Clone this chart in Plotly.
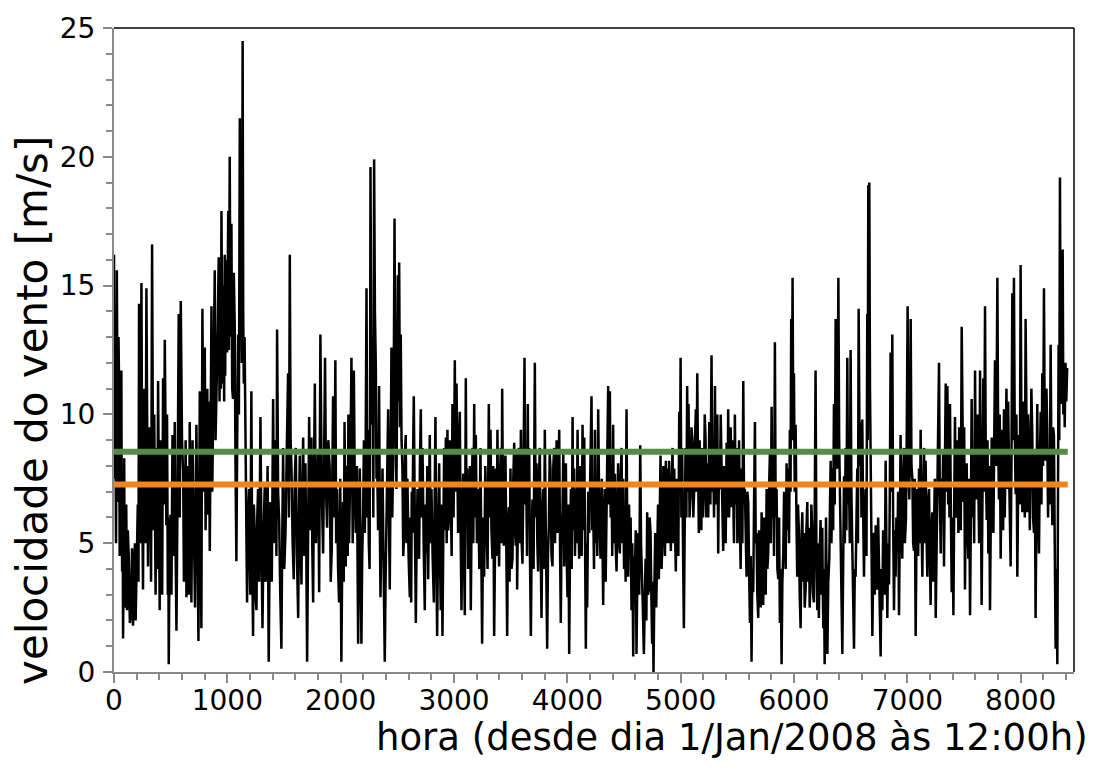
import plotly.graph_objects as go

# Hourly wind speed (peaks and troughs, ~7 h resolution)
hora = [
    0, 6, 12, 18, 25, 30, 35, 40, 45, 50, 55, 60, 65, 68, 72, 76, 80, 85, 90, 95,
    100, 108, 115, 122, 130, 140, 150, 159, 168, 176, 185, 191, 197, 204, 210, 216, 221, 226, 232, 237,
    242, 249, 256, 263, 270, 278, 286, 293, 300, 309, 318, 327, 336, 343, 350, 355, 360, 367, 374, 381,
    389, 396, 403, 410, 418, 425, 433, 440, 448, 455, 462, 468, 475, 479, 483, 490, 498, 507, 516, 526,
    536, 543, 551, 561, 571, 580, 589, 600, 610, 617, 625, 632, 639, 646, 654, 661, 668, 675, 683, 693,
    704, 715, 727, 736, 745, 751, 757, 764, 771, 775, 780, 790, 801, 808, 816, 823, 830, 837, 845, 852,
    860, 867, 874, 881, 889, 896, 904, 914, 924, 931, 939, 943, 948, 952, 957, 962, 967, 972, 977, 981,
    986, 992, 998, 1003, 1008, 1014, 1021, 1028, 1036, 1043, 1050, 1057, 1065, 1072, 1080, 1087, 1095, 1102, 1110, 1116,
    1122, 1128, 1135, 1140, 1145, 1152, 1160, 1167, 1174, 1183, 1192, 1202, 1212, 1219, 1227, 1234, 1242, 1249, 1257, 1264,
    1271, 1281, 1292, 1301, 1310, 1320, 1330, 1337, 1345, 1355, 1365, 1372, 1380, 1392, 1404, 1411, 1418, 1422, 1427, 1433,
    1439, 1448, 1457, 1467, 1477, 1484, 1492, 1502, 1513, 1524, 1536, 1543, 1551, 1558, 1566, 1576, 1586, 1595, 1604, 1614,
    1625, 1632, 1639, 1646, 1654, 1661, 1669, 1679, 1689, 1696, 1704, 1713, 1722, 1732, 1742, 1749, 1757, 1764, 1772, 1782,
    1792, 1801, 1810, 1815, 1821, 1833, 1845, 1853, 1862, 1871, 1880, 1891, 1903, 1912, 1921, 1927, 1933, 1943, 1953, 1960,
    1968, 1977, 1986, 1996, 2006, 2013, 2021, 2027, 2034, 2040, 2045, 2051, 2057, 2062, 2068, 2074, 2081, 2088, 2095, 2100,
    2106, 2111, 2116, 2125, 2133, 2143, 2154, 2161, 2169, 2176, 2183, 2190, 2198, 2205, 2213, 2220, 2228, 2235, 2242, 2248,
    2255, 2259, 2263, 2270, 2277, 2282, 2288, 2291, 2295, 2302, 2310, 2316, 2322, 2330, 2339, 2345, 2351, 2360, 2369, 2379,
    2389, 2396, 2404, 2411, 2419, 2426, 2433, 2440, 2448, 2455, 2463, 2469, 2475, 2483, 2492, 2498, 2504, 2510, 2516, 2523,
    2530, 2537, 2545, 2552, 2560, 2567, 2574, 2581, 2589, 2599, 2610, 2616, 2622, 2627, 2633, 2639, 2645, 2654, 2663, 2670,
    2678, 2685, 2692, 2699, 2707, 2714, 2722, 2732, 2742, 2749, 2757, 2764, 2772, 2779, 2786, 2793, 2801, 2811, 2822, 2829,
    2836, 2843, 2851, 2860, 2869, 2876, 2883, 2890, 2898, 2905, 2913, 2920, 2928, 2935, 2942, 2949, 2957, 2964, 2972, 2979,
    2986, 2996, 3007, 3014, 3022, 3029, 3036, 3043, 3051, 3058, 3066, 3073, 3081, 3088, 3095, 3099, 3104, 3110, 3116, 3124,
    3133, 3140, 3148, 3155, 3163, 3170, 3178, 3185, 3192, 3202, 3213, 3223, 3233, 3240, 3248, 3257, 3266, 3276, 3286, 3296,
    3307, 3314, 3322, 3330, 3339, 3346, 3354, 3361, 3369, 3376, 3383, 3390, 3398, 3405, 3413, 3419, 3425, 3432, 3439, 3446,
    3454, 3461, 3469, 3476, 3483, 3490, 3498, 3507, 3516, 3523, 3531, 3538, 3545, 3551, 3557, 3564, 3572, 3581, 3590, 3597,
    3604, 3613, 3622, 3629, 3637, 3644, 3651, 3657, 3663, 3670, 3678, 3685, 3692, 3702, 3713, 3720, 3728, 3735, 3742, 3749,
    3757, 3764, 3772, 3779, 3787, 3794, 3801, 3811, 3822, 3829, 3837, 3844, 3851, 3860, 3869, 3876, 3884, 3891, 3898, 3905,
    3913, 3920, 3928, 3935, 3942, 3949, 3957, 3964, 3972, 3979, 3987, 3994, 4001, 4008, 4016, 4023, 4031, 4038, 4046, 4053,
    4060, 4067, 4075, 4082, 4090, 4097, 4104, 4111, 4119, 4126, 4134, 4141, 4149, 4156, 4163, 4169, 4175, 4184, 4193, 4203,
    4213, 4220, 4228, 4235, 4243, 4250, 4257, 4264, 4272, 4282, 4293, 4304, 4316, 4323, 4331, 4338, 4345, 4352, 4360, 4367,
    4375, 4382, 4389, 4396, 4404, 4411, 4419, 4426, 4434, 4441, 4448, 4455, 4463, 4470, 4478, 4485, 4493, 4500, 4507, 4514,
    4522, 4529, 4537, 4544, 4551, 4558, 4566, 4573, 4581, 4588, 4596, 4603, 4610, 4617, 4625, 4634, 4643, 4650, 4657, 4666,
    4675, 4682, 4690, 4697, 4704, 4711, 4719, 4726, 4734, 4741, 4748, 4754, 4760, 4767, 4775, 4784, 4793, 4800, 4807, 4814,
    4822, 4831, 4840, 4847, 4854, 4861, 4869, 4876, 4884, 4891, 4898, 4905, 4913, 4920, 4928, 4935, 4943, 4950, 4957, 4964,
    4972, 4979, 4987, 4993, 4999, 5006, 5013, 5020, 5028, 5035, 5043, 5050, 5057, 5063, 5069, 5078, 5087, 5095, 5104, 5111,
    5119, 5126, 5134, 5140, 5146, 5153, 5160, 5167, 5175, 5182, 5190, 5197, 5205, 5212, 5219, 5226, 5234, 5243, 5252, 5262,
    5272, 5279, 5287, 5294, 5302, 5309, 5316, 5323, 5331, 5338, 5346, 5353, 5360, 5367, 5375, 5382, 5390, 5397, 5405, 5412,
    5419, 5426, 5434, 5441, 5449, 5456, 5463, 5470, 5478, 5485, 5493, 5500, 5508, 5515, 5522, 5529, 5537, 5544, 5552, 5559,
    5566, 5573, 5581, 5588, 5596, 5603, 5611, 5618, 5625, 5632, 5640, 5647, 5655, 5662, 5669, 5676, 5684, 5691, 5699, 5706,
    5714, 5721, 5728, 5735, 5743, 5750, 5758, 5765, 5772, 5779, 5787, 5794, 5802, 5809, 5816, 5823, 5831, 5838, 5846, 5853,
    5861, 5868, 5875, 5882, 5890, 5897, 5905, 5912, 5919, 5926, 5934, 5941, 5949, 5956, 5963, 5969, 5975, 5981, 5987, 5993,
    5999, 6006, 6014, 6021, 6028, 6035, 6043, 6050, 6058, 6065, 6073, 6080, 6087, 6094, 6102, 6109, 6117, 6124, 6131, 6138,
    6146, 6153, 6161, 6168, 6175, 6182, 6190, 6197, 6205, 6212, 6219, 6226, 6234, 6241, 6249, 6253, 6258, 6264, 6270, 6276,
    6282, 6288, 6294, 6302, 6311, 6317, 6323, 6330, 6338, 6345, 6352, 6359, 6367, 6374, 6382, 6386, 6391, 6398, 6405, 6415,
    6426, 6433, 6441, 6448, 6455, 6462, 6470, 6477, 6485, 6492, 6499, 6506, 6514, 6521, 6529, 6536, 6543, 6550, 6558, 6564,
    6570, 6579, 6588, 6595, 6602, 6609, 6617, 6624, 6632, 6639, 6646, 6650, 6655, 6659, 6664, 6670, 6676, 6683, 6691, 6698,
    6705, 6712, 6720, 6727, 6735, 6742, 6749, 6756, 6764, 6771, 6779, 6786, 6793, 6800, 6808, 6815, 6823, 6830, 6838, 6845,
    6852, 6859, 6867, 6874, 6882, 6889, 6896, 6903, 6911, 6918, 6926, 6933, 6940, 6947, 6955, 6962, 6970, 6978, 6987, 6994,
    7002, 7009, 7017, 7023, 7029, 7036, 7044, 7051, 7058, 7065, 7073, 7080, 7088, 7095, 7103, 7110, 7117, 7124, 7132, 7139,
    7147, 7154, 7161, 7168, 7176, 7183, 7191, 7198, 7205, 7212, 7220, 7227, 7235, 7242, 7250, 7257, 7264, 7271, 7279, 7286,
    7294, 7301, 7308, 7315, 7323, 7330, 7338, 7345, 7353, 7360, 7367, 7371, 7376, 7383, 7391, 7398, 7406, 7413, 7420, 7427,
    7435, 7442, 7450, 7457, 7464, 7471, 7479, 7486, 7494, 7501, 7508, 7515, 7523, 7530, 7538, 7545, 7553, 7560, 7567, 7574,
    7582, 7589, 7597, 7604, 7611, 7618, 7626, 7633, 7641, 7648, 7655, 7662, 7670, 7677, 7685, 7692, 7700, 7707, 7714, 7721,
    7729, 7736, 7744, 7751, 7759, 7766, 7773, 7783, 7794, 7801, 7808, 7815, 7823, 7830, 7838, 7845, 7852, 7859, 7867, 7874,
    7882, 7889, 7896, 7903, 7911, 7918, 7926, 7933, 7940, 7947, 7955, 7962, 7970, 7977, 7985, 7992, 7999, 8006, 8014, 8021,
    8029, 8036, 8043, 8050, 8058, 8065, 8073, 8080, 8087, 8094, 8102, 8109, 8117, 8124, 8131, 8138, 8146, 8153, 8161, 8168,
    8176, 8183, 8190, 8197, 8205, 8212, 8220, 8227, 8234, 8241, 8249, 8256, 8264, 8271, 8279, 8286, 8293, 8300, 8308, 8315,
    8323, 8328, 8334, 8340, 8346, 8352, 8358, 8364, 8370, 8376, 8382, 8388, 8395, 8402, 8410,
]

velocidade = [
    16.2, 7.5, 10.0, 5.0, 15.6, 9.0, 6.6, 13.0, 11.0, 4.5, 7.6, 10.5, 11.7, 6.0, 3.9, 7.0, 1.3, 4.5, 8.3, 2.5,
    3.0, 6.5, 2.4, 5.5, 4.5, 1.9, 2.2, 4.8, 1.8, 4.0, 5.0, 2.0, 3.1, 5.5, 6.5, 3.5, 14.3, 6.0, 5.0, 9.5,
    15.1, 7.0, 3.2, 11.0, 9.0, 5.0, 14.9, 8.0, 4.1, 9.5, 8.5, 3.5, 16.6, 9.0, 5.5, 10.0, 7.4, 3.0, 8.7, 4.0,
    11.3, 6.0, 2.4, 9.0, 6.1, 3.0, 11.4, 6.5, 12.9, 8.0, 5.7, 10.0, 3.0, 6.0, 0.3, 4.5, 6.1, 3.0, 9.2, 4.5,
    9.7, 5.0, 1.6, 7.0, 13.9, 6.0, 14.4, 9.0, 7.7, 3.5, 5.0, 9.0, 2.9, 8.0, 4.7, 3.0, 9.7, 5.5, 2.7, 9.0,
    6.1, 2.5, 9.6, 5.0, 1.2, 6.0, 10.9, 5.0, 1.7, 8.0, 14.1, 7.0, 12.6, 5.5, 8.1, 11.0, 6.1, 10.5, 4.7, 9.0,
    14.2, 7.0, 9.2, 13.0, 15.6, 9.0, 10.4, 13.0, 16.1, 10.5, 15.1, 11.0, 17.9, 12.0, 11.2, 15.0, 13.0, 10.5, 16.2, 11.5,
    16.0, 13.5, 12.4, 15.0, 17.9, 12.5, 20.0, 13.0, 17.4, 11.0, 10.6, 15.5, 13.5, 8.0, 4.3, 9.0, 13.1, 10.0, 21.5, 13.0,
    15.0, 12.0, 24.5, 14.0, 11.2, 13.0, 9.6, 5.0, 2.7, 6.0, 7.1, 3.0, 10.9, 4.5, 1.4, 6.5, 5.4, 3.0, 2.4, 6.0,
    7.1, 3.5, 9.9, 5.0, 1.7, 5.5, 7.2, 3.5, 4.2, 8.0, 0.4, 4.0, 6.6, 3.5, 10.6, 6.0, 5.0, 9.0, 8.1, 4.5,
    13.3, 7.0, 5.9, 3.0, 0.9, 5.0, 8.7, 4.0, 5.4, 8.5, 11.6, 6.0, 16.2, 9.0, 7.9, 5.0, 3.6, 7.5, 8.7, 4.5,
    2.1, 6.0, 8.4, 5.0, 3.4, 7.0, 9.1, 4.5, 8.1, 5.0, 0.4, 5.5, 9.9, 5.5, 9.1, 5.0, 2.7, 7.5, 11.2, 5.0,
    6.4, 8.5, 3.1, 7.0, 13.1, 7.0, 4.6, 8.0, 12.2, 7.0, 5.6, 9.0, 7.9, 3.5, 4.7, 8.0, 10.7, 6.0, 12.1, 5.0,
    7.1, 4.0, 2.7, 7.5, 0.4, 4.0, 6.6, 3.5, 9.7, 6.0, 4.1, 8.0, 7.9, 4.5, 10.0, 5.0, 6.6, 9.0, 12.2, 7.5,
    5.0, 9.0, 11.7, 7.0, 5.4, 8.0, 1.1, 5.0, 7.9, 4.0, 1.1, 4.5, 6.1, 9.0, 5.4, 8.5, 14.9, 6.0, 9.4, 5.0,
    4.0, 10.0, 19.6, 12.0, 9.6, 13.0, 6.0, 11.0, 19.9, 14.0, 11.9, 7.5, 8.1, 5.5, 11.1, 6.0, 2.9, 6.0, 7.9, 4.0,
    0.4, 3.5, 5.4, 8.0, 10.2, 6.0, 3.2, 7.5, 12.6, 6.0, 8.1, 12.0, 17.6, 10.0, 7.1, 11.0, 15.4, 10.5, 15.9, 9.5,
    13.1, 9.0, 7.9, 4.5, 5.4, 8.5, 9.2, 5.0, 7.5, 4.5, 2.9, 6.0, 2.7, 7.0, 5.4, 8.5, 10.7, 6.0, 1.9, 5.0,
    7.1, 4.5, 4.4, 8.0, 10.2, 6.0, 8.7, 5.0, 2.4, 6.5, 4.6, 8.0, 3.6, 6.5, 9.2, 5.0, 7.1, 4.5, 2.7, 6.5,
    9.9, 5.0, 1.4, 5.5, 8.1, 4.5, 2.4, 6.5, 1.4, 5.0, 8.7, 5.5, 9.1, 5.0, 9.4, 5.5, 6.2, 9.0, 7.1, 4.5,
    10.4, 6.0, 12.1, 7.0, 11.2, 7.5, 5.4, 8.5, 10.1, 5.5, 2.4, 6.0, 7.7, 4.5, 2.2, 6.5, 11.4, 6.0, 7.9, 4.0,
    5.4, 8.0, 2.4, 6.0, 8.7, 5.0, 10.4, 6.0, 9.2, 5.0, 7.1, 4.0, 8.7, 5.0, 1.1, 6.0, 3.7, 8.0, 6.2, 4.0,
    10.4, 6.0, 9.4, 5.5, 4.4, 8.0, 1.4, 5.0, 7.9, 4.5, 9.4, 6.0, 4.1, 7.5, 8.7, 5.0, 11.0, 6.5, 4.9, 8.0,
    8.4, 5.0, 1.4, 5.5, 6.4, 3.5, 7.9, 4.0, 4.4, 7.5, 8.9, 5.5, 4.9, 8.5, 3.2, 6.0, 8.7, 5.0, 9.4, 5.0,
    4.2, 8.0, 12.2, 6.5, 7.4, 4.5, 10.4, 6.0, 8.7, 4.5, 1.4, 5.0, 6.7, 4.0, 12.0, 6.0, 8.1, 5.0, 3.9, 7.5,
    8.7, 5.0, 2.1, 6.0, 7.1, 4.0, 9.4, 5.0, 0.9, 4.5, 5.7, 8.5, 7.9, 4.5, 4.1, 8.0, 8.7, 5.0, 7.1, 9.0,
    5.4, 8.0, 9.4, 5.0, 1.9, 5.5, 6.2, 8.5, 4.1, 7.0, 8.1, 4.5, 2.9, 6.5, 0.7, 4.5, 7.1, 4.0, 9.9, 5.5,
    7.9, 4.5, 7.1, 5.0, 9.4, 6.0, 4.4, 8.0, 7.1, 4.5, 9.6, 5.5, 9.1, 5.0, 0.9, 5.0, 2.5, 7.0, 5.4, 8.0,
    10.7, 5.5, 6.4, 4.0, 9.4, 5.0, 7.4, 4.5, 10.2, 6.0, 4.4, 7.5, 2.6, 6.0, 7.1, 3.5, 5.5, 8.5, 11.1, 6.5,
    10.9, 6.0, 7.9, 4.5, 9.6, 5.0, 7.7, 5.0, 3.9, 6.5, 8.1, 5.0, 4.6, 7.5, 8.7, 5.0, 7.5, 4.0, 6.2, 3.5,
    10.2, 5.0, 3.7, 6.5, 4.6, 6.0, 2.4, 5.0, 0.6, 4.5, 3.7, 5.5, 0.7, 3.5, 5.4, 3.0, 8.8, 5.0, 4.2, 2.5,
    0.7, 3.0, 4.4, 2.0, 6.2, 3.0, 3.2, 6.0, 5.4, 3.0, 1.1, 3.5, 0.0, 3.0, 5.4, 2.5, 4.9, 6.5, 3.6, 6.0,
    8.4, 4.0, 5.2, 8.0, 7.1, 4.5, 8.2, 5.0, 7.9, 5.0, 8.2, 6.5, 4.7, 7.0, 8.7, 5.0, 7.9, 5.5, 3.9, 7.5,
    6.9, 4.5, 10.1, 7.0, 12.2, 6.0, 8.7, 5.0, 1.7, 5.5, 8.7, 6.0, 11.1, 7.0, 10.4, 6.0, 6.9, 9.5, 8.9, 6.0,
    7.1, 9.0, 10.2, 7.0, 11.6, 8.0, 5.4, 9.0, 7.2, 5.5, 8.7, 6.0, 7.1, 10.0, 9.1, 6.0, 8.1, 6.0, 9.7, 6.5,
    12.3, 7.0, 8.2, 6.0, 11.1, 6.5, 7.9, 10.0, 4.6, 8.5, 7.1, 10.0, 8.1, 6.0, 4.7, 8.0, 7.1, 5.0, 8.9, 6.0,
    10.2, 6.0, 7.1, 9.5, 6.4, 9.0, 7.4, 5.0, 10.0, 6.5, 8.7, 5.0, 6.2, 9.0, 5.7, 4.0, 7.9, 5.0, 11.3, 6.5,
    7.1, 4.5, 3.7, 7.0, 6.6, 4.0, 1.9, 4.5, 0.4, 4.0, 3.1, 6.5, 9.7, 5.0, 5.4, 3.0, 2.1, 5.5, 4.6, 2.5,
    6.2, 3.5, 2.6, 6.0, 5.4, 3.0, 7.1, 4.0, 4.6, 7.0, 8.5, 5.0, 10.3, 6.0, 7.2, 4.5, 12.8, 6.0, 7.1, 4.0,
    3.6, 6.0, 1.9, 4.0, 0.3, 3.5, 4.6, 7.0, 6.2, 4.0, 8.1, 5.5, 7.9, 5.0, 9.4, 7.0, 13.7, 9.0, 15.3, 9.5,
    11.6, 7.0, 9.6, 6.0, 3.7, 6.5, 5.4, 3.0, 1.7, 5.0, 6.2, 3.5, 5.4, 2.5, 3.2, 5.5, 6.6, 3.5, 5.6, 2.5,
    3.7, 6.5, 5.4, 3.0, 2.7, 6.0, 11.7, 5.0, 2.4, 5.0, 2.1, 4.5, 5.9, 3.0, 5.6, 3.5, 1.7, 4.0, 0.3, 3.0,
    6.0, 3.0, 0.7, 3.5, 4.4, 6.5, 8.2, 5.0, 7.9, 5.5, 10.4, 6.5, 13.7, 8.0, 7.9, 11.0, 15.3, 9.0, 7.4, 4.0,
    0.7, 4.0, 7.6, 5.0, 8.7, 5.5, 12.2, 6.5, 7.4, 5.0, 12.5, 7.0, 5.4, 3.0, 0.9, 4.0, 3.7, 6.0, 7.9, 5.0,
    14.1, 8.0, 9.7, 6.0, 9.8, 6.5, 3.7, 6.0, 7.1, 4.5, 13.9, 9.0, 18.9, 12.0, 19.0, 11.0, 8.7, 4.5, 1.4, 4.0,
    5.4, 3.0, 5.7, 3.5, 3.2, 6.0, 4.6, 2.5, 0.6, 4.0, 2.4, 5.5, 4.9, 3.0, 8.2, 5.0, 2.1, 5.0, 3.4, 7.0,
    12.4, 7.0, 13.1, 6.0, 2.4, 5.5, 3.7, 6.0, 4.6, 7.0, 2.2, 5.5, 9.2, 5.5, 4.4, 7.5, 8.7, 5.0, 5.9, 9.0,
    14.2, 8.0, 6.7, 9.5, 13.7, 8.0, 7.5, 5.0, 4.7, 7.5, 1.4, 5.0, 7.1, 4.5, 7.9, 5.0, 9.4, 6.0, 3.7, 6.5,
    8.7, 5.0, 8.2, 5.5, 3.7, 6.5, 7.1, 4.5, 2.6, 5.5, 6.2, 3.5, 5.4, 7.5, 2.1, 5.0, 6.7, 9.0, 12.0, 7.0,
    4.6, 7.5, 6.1, 8.5, 4.1, 7.5, 11.2, 7.0, 11.1, 6.5, 8.7, 6.0, 10.4, 6.5, 3.1, 6.0, 2.2, 6.5, 9.9, 6.0,
    6.2, 9.0, 5.4, 9.5, 7.9, 5.5, 13.4, 8.0, 6.6, 9.5, 3.2, 6.5, 8.1, 5.5, 4.4, 7.5, 2.2, 6.0, 10.6, 6.0,
    7.7, 5.0, 11.7, 7.0, 6.7, 10.0, 7.1, 5.0, 11.7, 6.5, 2.6, 6.5, 11.4, 7.0, 14.2, 8.0, 5.9, 9.0, 4.6, 8.0,
    2.4, 6.0, 9.1, 6.0, 5.4, 9.0, 12.1, 8.0, 15.3, 9.0, 6.7, 10.0, 4.4, 7.5, 9.4, 5.5, 10.2, 6.0, 7.9, 11.0,
    7.1, 10.5, 8.2, 5.5, 4.1, 8.0, 14.7, 9.0, 15.3, 9.5, 6.9, 10.0, 3.7, 7.0, 9.2, 6.5, 15.8, 9.5, 6.2, 10.5,
    8.7, 6.0, 13.7, 8.0, 6.2, 10.0, 8.4, 5.5, 8.1, 11.0, 9.2, 6.0, 5.4, 8.5, 2.1, 6.5, 10.4, 6.5, 4.6, 8.0,
    10.1, 6.5, 11.6, 8.0, 14.9, 9.0, 8.2, 11.0, 9.4, 6.0, 8.7, 6.5, 12.7, 8.0, 5.7, 9.5, 9.2, 5.0, 0.9, 4.0,
    0.3, 6.0, 12.7, 9.0, 19.2, 12.0, 10.4, 14.0, 16.4, 10.0, 11.7, 9.5, 12.0, 10.5, 11.8,
]

n = min(len(hora), len(velocidade))
hora = hora[:n]
velocidade = velocidade[:n]

# Two horizontal reference levels
linha_horas = [0, 8415]
linha_verde = [8.55, 8.55]
linha_laranja = [7.28, 7.28]

x_ticks = [0, 1000, 2000, 3000, 4000, 5000, 6000, 7000, 8000]
y_ticks = [0, 5, 10, 15, 20, 25]

FONT = "DejaVu Sans"
AXIS_GREY = "#8a8a8a"

fig = go.Figure()
fig.add_trace(go.Scatter(x=hora, y=velocidade, mode="lines",
                         line=dict(color="black", width=2.5), hoverinfo="skip"))
fig.add_trace(go.Scatter(x=linha_horas, y=linha_verde, mode="lines",
                         line=dict(color="#558B45", width=6), hoverinfo="skip"))
fig.add_trace(go.Scatter(x=linha_horas, y=linha_laranja, mode="lines",
                         line=dict(color="#F08519", width=6), hoverinfo="skip"))

fig.update_layout(
    width=1095, height=782,
    margin=dict(l=114, r=21, t=19, b=110),
    paper_bgcolor="white", plot_bgcolor="white",
    showlegend=False,
    font=dict(family=FONT, color="black"),
    xaxis=dict(
        range=[0, 8470], tickvals=x_ticks, ticktext=[str(v) for v in x_ticks],
        ticks="outside", ticklen=9, tickwidth=1.5, tickcolor=AXIS_GREY,
        showline=True, linecolor=AXIS_GREY, linewidth=2,
        showgrid=False, zeroline=False,
        tickfont=dict(family=FONT, size=28, color="black"),
        ticklabelstandoff=-7,
        minor=dict(dtick=200, tick0=0, ticks="outside", ticklen=6,
                   tickwidth=1.5, tickcolor=AXIS_GREY, showgrid=False),
    ),
    yaxis=dict(
        range=[0, 25], tickvals=y_ticks, ticktext=[str(v) for v in y_ticks],
        ticks="outside", ticklen=9, tickwidth=1.5, tickcolor=AXIS_GREY,
        showline=True, linecolor=AXIS_GREY, linewidth=2,
        showgrid=False, zeroline=False,
        tickfont=dict(family=FONT, size=28, color="black"),
        ticklabelstandoff=2,
        minor=dict(dtick=1, tick0=0, ticks="outside", ticklen=6,
                   tickwidth=1.5, tickcolor=AXIS_GREY, showgrid=False),
    ),
    shapes=[
        dict(type="line", xref="paper", yref="paper", x0=0, x1=1, y0=1, y1=1,
             line=dict(color="black", width=1.5), layer="below"),
        dict(type="line", xref="paper", yref="paper", x0=1, x1=1, y0=0, y1=1,
             line=dict(color="black", width=1.5), layer="below"),
    ],
    annotations=[
        dict(text="hora (desde dia 1/Jan/2008 às 12:00h)", xref="paper", yref="paper",
             x=1.017, y=-0.101, xanchor="right", yanchor="middle", showarrow=False,
             font=dict(family=FONT, size=37, color="black")),
        dict(text="velocidade do vento [m/s]", xref="paper", yref="paper",
             x=-0.085, y=0.406, xanchor="center", yanchor="middle", showarrow=False,
             textangle=-90, font=dict(family=FONT, size=42, color="black")),
    ],
)

fig.write_html("out.html")
